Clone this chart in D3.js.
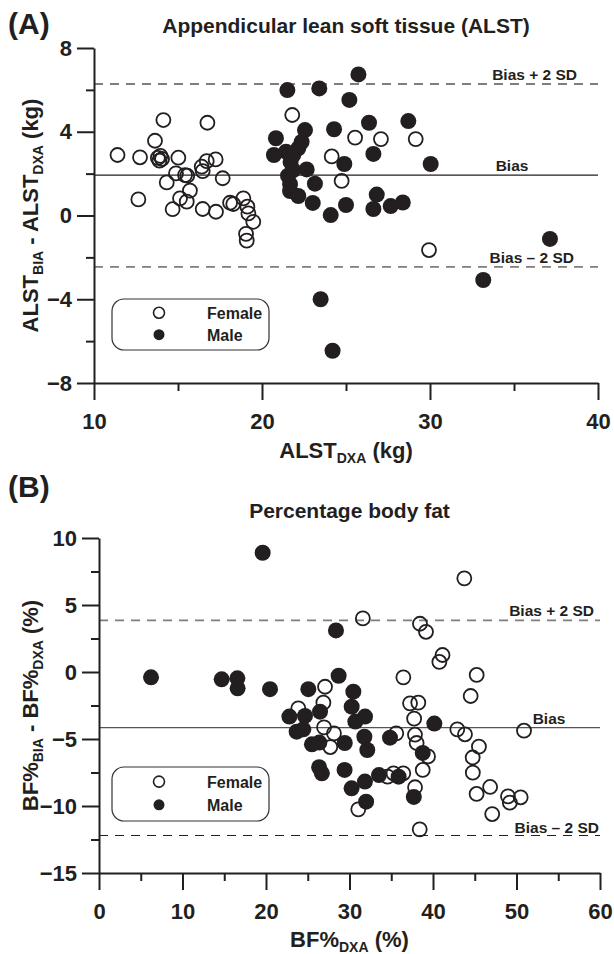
<!DOCTYPE html>
<html>
<head>
<meta charset="utf-8">
<script src="https://cdn.jsdelivr.net/npm/d3@7"></script>
<style>
  body { margin: 0; background: #fff; }
  svg text { font-family: "Liberation Sans", Arial, sans-serif; font-weight: bold; fill: #231f20; }
</style>
</head>
<body>
<div id="chart"></div>
<script>
// Panel A: ALST (kg), x = ALST_DXA, y = ALST_BIA - ALST_DXA
const femaleA = [
  [11.4, 2.89], [12.64, 0.77], [12.74, 2.78], [14.13, 4.56], [13.63, 3.57],
  [13.8, 2.75], [13.95, 2.85], [14.05, 2.7], [13.9, 2.62], [14.33, 1.58],
  [15.02, 2.76], [14.88, 2.01], [15.42, 1.93], [15.55, 1.9], [15.12, 0.82],
  [15.52, 0.66], [14.68, 0.3], [15.71, 1.19], [16.41, 2.33], [16.71, 2.6],
  [16.47, 2.12], [16.75, 4.43], [17.24, 2.68], [17.66, 1.78], [16.47, 0.31],
  [17.26, 0.18], [18.1, 0.61], [18.29, 0.55], [18.89, 0.82], [19.13, 0.42],
  [19.19, 0.1], [19.48, -0.3], [19.05, -0.88], [19.09, -1.2], [21.8, 4.8],
  [24.15, 2.82], [24.74, 1.65], [25.54, 3.72], [27.08, 3.65], [29.15, 3.65],
  [29.94, -1.65]
];
const maleA = [
  [21.51, 5.99], [23.41, 6.07], [25.74, 6.74], [25.2, 5.52], [20.83, 3.69],
  [22.56, 4.08], [22.36, 3.52], [22.16, 3.21], [20.71, 2.89], [21.43, 3.05],
  [21.86, 2.89], [21.7, 2.55], [21.55, 1.9], [21.86, 2.17], [22.66, 2.2],
  [21.67, 1.5], [21.67, 1.17], [22.16, 0.93], [23.15, 1.52], [23.02, 0.6],
  [24.09, 0.02], [24.29, 4.12], [24.9, 2.46], [25.0, 0.5], [26.37, 4.43],
  [26.63, 2.94], [26.83, 1.0], [26.63, 0.31], [27.66, 0.45], [28.38, 0.62],
  [28.71, 4.51], [30.04, 2.46], [37.14, -1.12], [33.17, -3.08], [23.49, -4.0],
  [24.2, -6.46]
];
const linesA = { bias: 1.93, upper: 6.28, lower: -2.45 };
const xTicksA = [10, 20, 30, 40];
const xMinorA = [15, 25, 35];
const yTicksA = [-8, -4, 0, 4, 8];
const yMinorA = [-6, -2, 2, 6];

// Panel B: BF% (%), x = BF%_DXA, y = BF%_BIA - BF%_DXA
const femaleB = [
  [27.07, -1.1], [26.87, -2.29], [23.87, -2.71], [31.6, 4.0], [38.44, 3.6],
  [39.16, 3.0], [41.14, 1.27], [40.76, 0.75], [36.45, -0.4], [43.75, 6.99],
  [45.23, -0.22], [44.51, -1.79], [37.25, -2.34], [38.24, -2.29], [37.74, -3.48],
  [42.91, -4.28], [43.83, -4.65], [50.9, -4.38], [35.6, -4.58], [37.84, -4.68],
  [38.04, -5.3], [39.4, -6.3], [45.5, -5.57], [44.75, -6.38], [38.77, -7.31],
  [44.77, -7.51], [37.85, -8.6], [45.22, -9.1], [46.84, -8.58], [48.98, -9.28],
  [49.2, -9.75], [50.5, -9.35], [47.09, -10.6], [31.05, -10.25], [38.41, -11.74],
  [26.95, -4.13], [28.14, -4.58], [27.7, -5.6], [34.56, -7.81], [35.27, -7.56],
  [36.44, -7.56]
];
const maleB = [
  [19.6, 8.9], [6.23, -0.4], [14.69, -0.55], [16.57, -0.47], [16.6, -1.22],
  [20.48, -1.28], [28.38, 3.1], [25.07, -1.28], [28.7, -0.28], [26.47, -2.96],
  [22.8, -3.33], [24.67, -3.28], [30.46, -1.47], [30.26, -2.59], [30.7, -3.7],
  [31.86, -3.33], [23.67, -4.45], [24.47, -4.28], [25.5, -5.4], [26.39, -5.27],
  [29.43, -5.3], [31.78, -4.83], [32.13, -5.82], [34.85, -4.9], [38.77, -6.04],
  [40.16, -3.85], [26.36, -7.11], [26.69, -7.56], [29.41, -7.31], [33.53, -7.69],
  [35.88, -7.81], [30.25, -8.68], [31.85, -8.18], [37.7, -9.32], [31.99, -9.68]
];
const linesB = { bias: -4.15, upper: 3.85, lower: -12.2 };
const xTicksB = [0, 10, 20, 30, 40, 50, 60];
const xMinorB = [5, 15, 25, 35, 45, 55];
const yTicksB = [-15, -10, -5, 0, 5, 10];
const yMinorB = [-12.5, -7.5, -2.5, 2.5, 7.5];

const legendLabels = ["Female", "Male"];

const svg = d3.select("#chart").append("svg")
    .attr("width", 614)
    .attr("height", 954);

const fmt = d => d < 0 ? "\u2212" + Math.abs(d) : String(d);

function drawPanel(p) {
    const x = d3.scaleLinear().domain(p.xDomain).range([p.left, p.right]);
    const y = d3.scaleLinear().domain(p.yDomain).range([p.bottom, p.top]);
    const g = svg.append("g");

    // panel letter and title
    g.append("text").attr("x", 8).attr("y", p.letterY)
        .style("font-size", "30px").text(p.letter);
    g.append("text").attr("x", (p.left + p.right) / 2).attr("y", p.titleY)
        .attr("text-anchor", "middle").style("font-size", "21px").text(p.title);

    // reference lines
    g.append("line").attr("x1", p.left).attr("x2", p.right)
        .attr("y1", y(p.lines.upper)).attr("y2", y(p.lines.upper))
        .attr("stroke", "#7d7d7d").attr("stroke-width", 1.8).attr("stroke-dasharray", "9,7");
    g.append("line").attr("x1", p.left).attr("x2", p.right)
        .attr("y1", y(p.lines.lower)).attr("y2", y(p.lines.lower))
        .attr("stroke", p.lowerColor).attr("stroke-width", p.lowerWidth).attr("stroke-dasharray", "9,7");
    g.append("line").attr("x1", p.left).attr("x2", p.right)
        .attr("y1", y(p.lines.bias)).attr("y2", y(p.lines.bias))
        .attr("stroke", p.biasColor).attr("stroke-width", 1.3);

    g.append("text").attr("x", p.upperLabelX).attr("y", y(p.lines.upper) - 4)
        .attr("text-anchor", "end").style("font-size", "15.5px").text("Bias + 2 SD");
    g.append("text").attr("x", p.biasLabelX).attr("y", y(p.lines.bias) - 4)
        .attr("text-anchor", "middle").style("font-size", "15.5px").text("Bias");
    g.append("text").attr("x", p.lowerLabelX).attr("y", y(p.lines.lower) - p.lowerLabelGap)
        .attr("text-anchor", "end").style("font-size", "15.5px").text("Bias \u2013 2 SD");

    // points
    g.selectAll(".female").data(p.female).enter().append("circle")
        .attr("cx", d => x(d[0])).attr("cy", d => y(d[1])).attr("r", 7)
        .attr("fill", "none").attr("stroke", "#231f20").attr("stroke-width", 1.8);
    g.selectAll(".male").data(p.male).enter().append("circle")
        .attr("cx", d => x(d[0])).attr("cy", d => y(d[1])).attr("r", 8)
        .attr("fill", "#231f20");

    // axes: minor ticks first, then major with labels
    const xMinor = g.append("g").attr("transform", `translate(0,${p.bottom})`)
        .call(d3.axisBottom(x).tickValues(p.xMinor).tickSize(8).tickFormat(""));
    const xMajor = g.append("g").attr("transform", `translate(0,${p.bottom})`)
        .call(d3.axisBottom(x).tickValues(p.xTicks).tickSize(17).tickSizeOuter(0)
            .tickPadding(13).tickFormat(fmt));
    const yMinor = g.append("g").attr("transform", `translate(${p.left},0)`)
        .call(d3.axisLeft(y).tickValues(p.yMinor).tickSize(8).tickFormat(""));
    const yMajor = g.append("g").attr("transform", `translate(${p.left},0)`)
        .call(d3.axisLeft(y).tickValues(p.yTicks).tickSize(17).tickSizeOuter(0)
            .tickPadding(5).tickFormat(fmt));
    [xMinor, yMinor].forEach(a => a.select(".domain").remove());
    [xMinor, xMajor, yMinor, yMajor].forEach(a => {
        a.selectAll("line").attr("stroke", "#231f20").attr("stroke-width", 2);
        a.select(".domain").attr("stroke", "#231f20").attr("stroke-width", 2);
        a.selectAll("text").style("font-size", "22px").attr("fill", "#231f20")
            .style("font-family", "'Liberation Sans', Arial, sans-serif").style("font-weight", "bold");
    });

    // axis titles with subscripts
    const xt = g.append("text").attr("x", (p.left + p.right) / 2).attr("y", p.xTitleY)
        .attr("text-anchor", "middle").style("font-size", "22px");
    p.xTitle.forEach(part => {
        xt.append("tspan").text(part[0])
            .style("font-size", part[1] ? "14px" : "22px")
            .attr("dy", part[1] ? 5 : (xt.selectAll("tspan").size() > 1 ? -5 : 0));
    });
    const yt = g.append("text")
        .attr("transform", `translate(${p.yTitleX},${(p.top + p.bottom) / 2}) rotate(-90)`)
        .attr("text-anchor", "middle").style("font-size", "22px");
    p.yTitle.forEach((part, i) => {
        yt.append("tspan").text(part[0])
            .style("font-size", part[1] ? "14px" : "22px")
            .attr("dy", part[1] ? 5 : (i > 0 ? -5 : 0));
    });

    // legend
    const lg = g.append("g");
    lg.append("rect").attr("x", p.legend[0]).attr("y", p.legend[1])
        .attr("width", 157).attr("height", p.legend[2]).attr("rx", 12)
        .attr("fill", "#fff").attr("stroke", "#333").attr("stroke-width", 1.2);
    legendLabels.forEach((name, i) => {
        const cy = p.legend[1] + p.legend[2] * (i === 0 ? 0.27 : 0.7);
        lg.append("circle").attr("cx", p.legend[0] + 47).attr("cy", cy).attr("r", 5.5)
            .attr("fill", i === 0 ? "none" : "#231f20")
            .attr("stroke", "#231f20").attr("stroke-width", i === 0 ? 1.6 : 0);
        lg.append("text").attr("x", p.legend[0] + 95).attr("y", cy + 6)
            .style("font-size", "16px").text(name);
    });
}

drawPanel({
    letter: "(A)", letterY: 34, title: "Appendicular lean soft tissue (ALST)", titleY: 33,
    xDomain: [10, 40], yDomain: [-8, 8], left: 94, right: 598, top: 48, bottom: 383,
    xTicks: xTicksA, xMinor: xMinorA, yTicks: yTicksA, yMinor: yMinorA,
    female: femaleA, male: maleA, lines: linesA,
    biasColor: "#231f20", lowerColor: "#7d7d7d", lowerWidth: 1.8,
    upperLabelX: 577, biasLabelX: 512, lowerLabelX: 574, lowerLabelGap: 4,
    xTitleY: 458, xTitle: [["ALST", false], ["DXA", true], [" (kg)", false]],
    yTitleX: 38, yTitle: [["ALST", false], ["BIA", true], [" - ALST", false], ["DXA", true], [" (kg)", false]],
    legend: [112, 299, 51]
});

drawPanel({
    letter: "(B)", letterY: 497, title: "Percentage body fat", titleY: 518,
    xDomain: [0, 60], yDomain: [-15, 10], left: 99, right: 600, top: 538, bottom: 873,
    xTicks: xTicksB, xMinor: xMinorB, yTicks: yTicksB, yMinor: yMinorB,
    female: femaleB, male: maleB, lines: linesB,
    biasColor: "#555", lowerColor: "#231f20", lowerWidth: 1.2,
    upperLabelX: 594, biasLabelX: 549, lowerLabelX: 599, lowerLabelGap: 2,
    xTitleY: 947, xTitle: [["BF%", false], ["DXA", true], [" (%)", false]],
    yTitleX: 38, yTitle: [["BF%", false], ["BIA", true], [" - BF%", false], ["DXA", true], [" (%)", false]],
    legend: [112, 767, 54]
});
</script>
</body>
</html>
